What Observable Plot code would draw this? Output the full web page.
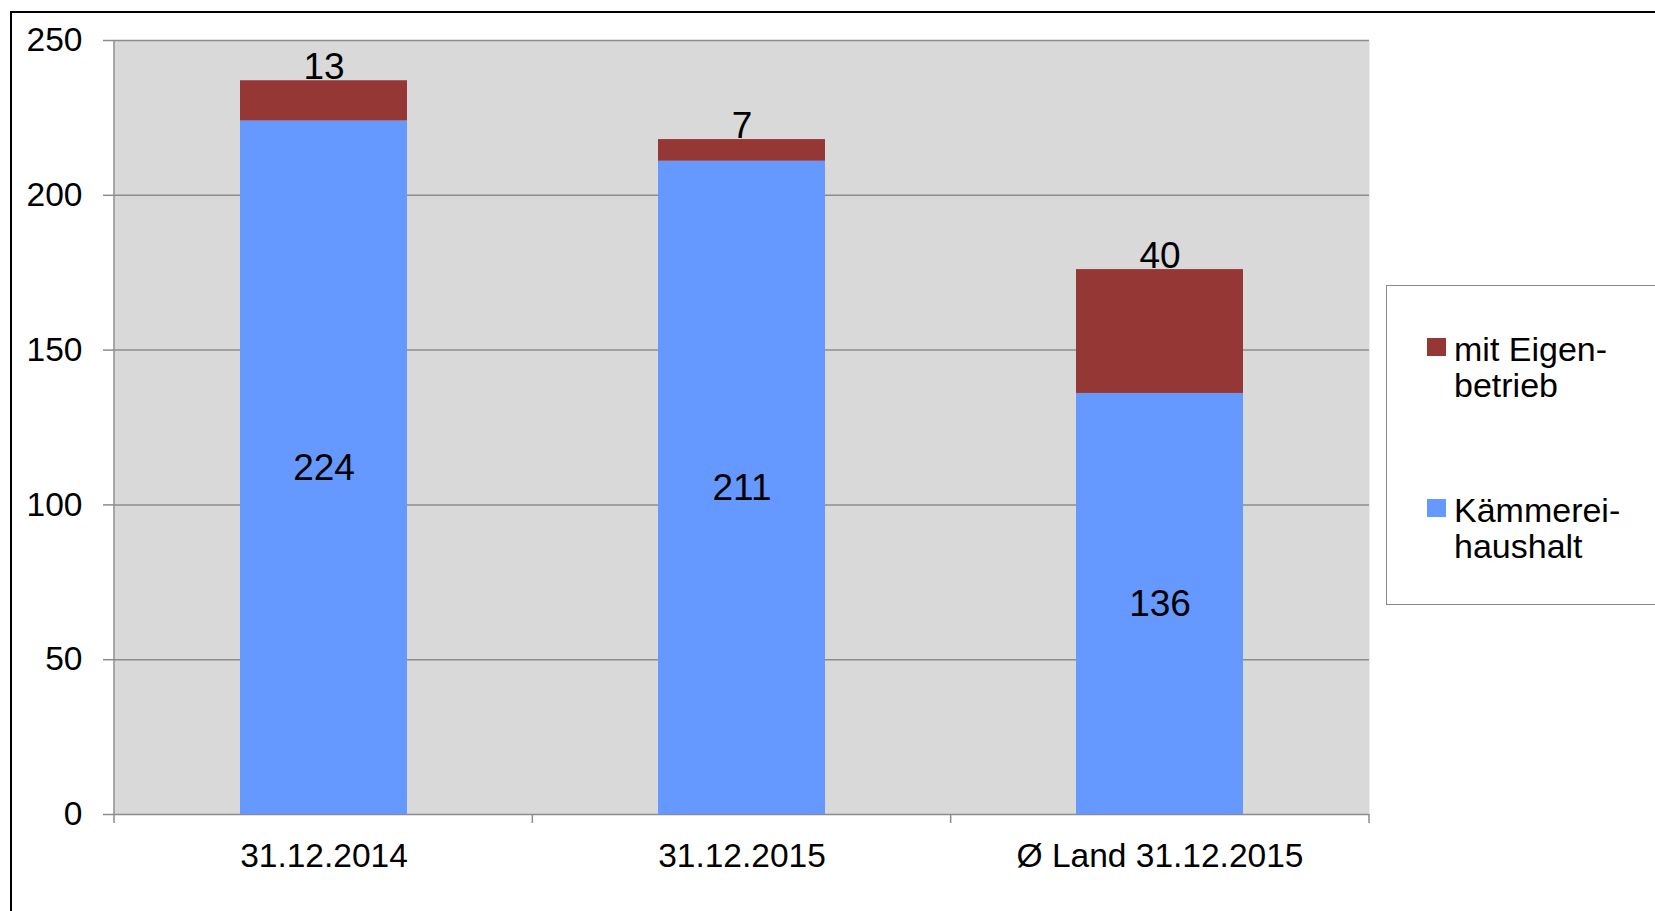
<!DOCTYPE html>
<html><head><meta charset="utf-8">
<script src="https://cdn.jsdelivr.net/npm/d3@7"></script>
<script src="https://cdn.jsdelivr.net/npm/@observablehq/plot@0.6"></script>
<style>
body{margin:0;background:#fff;font-family:"Liberation Sans",Arial,sans-serif;}
#wrap{position:relative;width:1655px;height:911px;overflow:hidden;}
#chart{position:absolute;left:0;top:0;}
#border{position:absolute;left:10px;top:11px;width:1700px;height:1000px;border:2px solid #000;box-sizing:border-box;}
#legend{position:absolute;left:1386px;top:285px;width:400px;height:320px;border:1.5px solid #8a8a8a;background:#fff;box-sizing:border-box;}
.item{position:absolute;left:67px;font-size:34px;line-height:36px;color:#000;white-space:nowrap;}
.sw{position:absolute;left:-27px;top:7px;width:19px;height:18px;}
</style></head>
<body>
<div id="wrap">
  <div id="chart"></div>
  <div id="border"></div>
  <div id="legend"></div>
</div>
<script>
const categories = ["31.12.2014", "31.12.2015", "Ø Land 31.12.2015"];
const kaemmerei = [224, 211, 136];
const eigenbetrieb = [13, 7, 40];
const yTicks = [0, 50, 100, 150, 200, 250];
const seriesKeys = ["Kämmereihaushalt", "mit Eigenbetrieb"];
const seriesColors = ["#6699ff", "#953735"];
const legendLabels = [["mit Eigen-", "betrieb"], ["Kämmerei-", "haushalt"]];

const data = categories.flatMap((c, i) => [
  {cat: c, series: seriesKeys[0], value: kaemmerei[i]},
  {cat: c, series: seriesKeys[1], value: eigenbetrieb[i]}
]);

const grey = "#8c8c8c";

const plot = Plot.plot({
  width: 1655,
  height: 911,
  marginLeft: 114,
  marginRight: 286,
  marginTop: 40,
  marginBottom: 97,
  style: {fontFamily: "'Liberation Sans', Arial, sans-serif", background: "transparent", color: "#000", overflow: "visible"},
  x: {domain: categories, paddingInner: 0.6, paddingOuter: 0.3, label: null},
  y: {domain: [0, 250], label: null},
  color: {domain: seriesKeys, range: seriesColors},
  marks: [
    Plot.frame({fill: "#d9d9d9", stroke: null}),
    Plot.gridY(yTicks, {stroke: grey, strokeOpacity: 1, strokeWidth: 1.5}),
    Plot.barY(data, {x: "cat", y: "value", fill: "series"}),
    (index, scales, values, dims) => {
      const n = categories.length;
      const step = (dims.width - dims.marginLeft - dims.marginRight) / n;
      const y0 = scales.y(0), yTop = scales.y(250);
      const g = d3.create("svg:g").attr("stroke", grey).attr("stroke-width", 1.5);
      g.append("line").attr("x1", dims.marginLeft).attr("x2", dims.marginLeft).attr("y1", yTop).attr("y2", y0 + 9);
      for (let i = 1; i <= n; i++) {
        const xx = dims.marginLeft + i * step;
        g.append("line").attr("x1", xx).attr("x2", xx).attr("y1", y0).attr("y2", y0 + 9);
      }
      return g.node();
    },
    Plot.axisY({ticks: yTicks, tickSize: 11, tickPadding: 21, fontSize: 33.5, stroke: grey, strokeWidth: 1.5, fill: "#000", label: null}),
    Plot.axisX({tickSize: 0, tickPadding: 29, fontSize: 33.5, fill: "#000", label: null}),
    Plot.text(data, Plot.stackY({x: "cat", y: "value", text: d => d.series === seriesKeys[0] ? String(d.value) : "", fontSize: 37, fill: "#000"})),
    Plot.text(data, Plot.stackY2({x: "cat", y: "value", text: d => d.series === seriesKeys[1] ? String(d.value) : "", fontSize: 37, fill: "#000", lineAnchor: "bottom", dy: -2}))
  ]
});
document.getElementById("chart").appendChild(plot);

// legend
const legend = document.getElementById("legend");
const itemTops = [45, 206];
legendLabels.forEach((lines, i) => {
  const item = document.createElement("div");
  item.className = "item";
  item.style.top = itemTops[i] + "px";
  item.innerHTML = lines.join("<br>");
  const sw = document.createElement("div");
  sw.className = "sw";
  sw.style.background = seriesColors[1 - i];
  item.appendChild(sw);
  legend.appendChild(item);
});
</script>
</body></html>
